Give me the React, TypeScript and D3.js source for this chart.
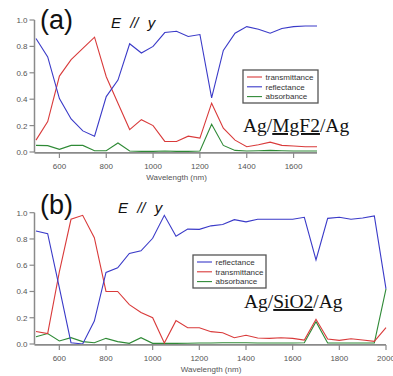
import * as d3 from 'd3';
import React from 'react';

const W = 393;
const H = 376;

// panel (a): Ag/MgF2/Ag
const wavelengthA = [
  500, 550, 600, 650, 700, 750, 800, 850, 900, 950, 1000, 1050, 1100, 1150, 1200,
  1250, 1300, 1350, 1400, 1450, 1500, 1550, 1600, 1650, 1700,
];
const transA = [
  0.09, 0.23, 0.575, 0.7, 0.785, 0.87, 0.57, 0.37, 0.17, 0.245, 0.2, 0.08, 0.08, 0.12, 0.105,
  0.37, 0.18, 0.09, 0.04, 0.055, 0.075, 0.05, 0.045, 0.04, 0.04,
];
const reflA = [
  0.86, 0.72, 0.405, 0.25, 0.16, 0.12, 0.42, 0.545, 0.82, 0.75, 0.8, 0.905, 0.915, 0.875, 0.89,
  0.41, 0.77, 0.9, 0.95, 0.93, 0.9, 0.935, 0.95, 0.955, 0.955,
];
const absA = [
  0.05, 0.048, 0.02, 0.05, 0.05, 0.01, 0.01, 0.068, 0.008, 0.005, 0.005, 0.008, 0.005, 0.005, 0.008,
  0.21, 0.05, 0.012, 0.008, 0.01, 0.012, 0.01, 0.008, 0.008, 0.008,
];

// panel (b): Ag/SiO2/Ag
const wavelengthB = [
  500, 550, 600, 650, 700, 750, 800, 850, 900, 950, 1000, 1050, 1100, 1150, 1200, 1250,
  1300, 1350, 1400, 1450, 1500, 1550, 1600, 1650, 1700, 1750, 1800, 1850, 1900, 1950, 2000,
];
const reflB = [
  0.86, 0.84, 0.43, 0.01, 0.0, 0.175, 0.545, 0.58, 0.69, 0.71, 0.805, 0.98, 0.82, 0.875, 0.873, 0.9,
  0.91, 0.947, 0.93, 0.95, 0.95, 0.95, 0.95, 0.965, 0.64, 0.957, 0.965, 0.95, 0.96, 0.975, 0.42,
];
const transB = [
  0.095, 0.08, 0.55, 0.95, 0.98, 0.81, 0.4, 0.4, 0.3, 0.24, 0.2, 0.008, 0.178, 0.124, 0.124, 0.094,
  0.086, 0.048, 0.066, 0.046, 0.043, 0.048, 0.043, 0.03, 0.188, 0.038, 0.028, 0.04, 0.03, 0.02, 0.124,
];
const absB = [
  0.055, 0.08, 0.023, 0.048, 0.018, 0.01, 0.043, 0.018, 0.005, 0.048, 0.005, 0.005, 0.005, 0.006, 0.008, 0.008,
  0.01, 0.01, 0.01, 0.008, 0.008, 0.008, 0.008, 0.01, 0.17, 0.008, 0.008, 0.008, 0.008, 0.008, 0.42,
];

const yTicks = [0, 0.2, 0.4, 0.6, 0.8, 1.0];
const xTicksA = [600, 800, 1000, 1200, 1400, 1600];
const xTicksB = [600, 800, 1000, 1200, 1400, 1600, 1800, 2000];

const RED = '#d93a3a';
const BLUE = '#3a3ac8';
const GREEN = '#2f8a36';
const AXIS = '#8a8a8a';
const LABEL = '#555';
const SANS = 'Arial, "Liberation Sans", sans-serif';
const SERIF = '"Times New Roman", "Liberation Serif", serif';

type Series = { name: string; color: string; values: number[] };

function Panel({
  label, x0, x1, xMax, yTop, yBottom, wl, series, xTicks, legend, legendBox, formula, formulaPos, tag,
}: {
  label: string; x0: number; x1: number; xMax: number; yTop: number; yBottom: number;
  wl: number[]; series: Series[]; xTicks: number[];
  legend: Series[]; legendBox: { x: number; y: number; w: number; h: number };
  formula: [string, string, string]; formulaPos: { x: number; y: number };
  tag: { x: number; y: number; ex: number };
}) {
  const x = d3.scaleLinear().domain([500, xMax]).range([x0, x1]);
  const y = d3.scaleLinear().domain([0, 1]).range([yBottom, yTop]);
  const axisX = x0 - 1.5;
  const line = d3.line<number>().x((_, i) => x(wl[i])).y((v) => y(v));

  return (
    <g>
      {/* series */}
      {series.map((s) => (
        <path key={s.name} d={line(s.values) || ''} fill="none" stroke={s.color} strokeWidth={1.1} />
      ))}

      {/* y axis */}
      <line x1={axisX} x2={axisX} y1={y(1)} y2={yBottom + 0.5} stroke={AXIS} strokeWidth={1.5} />
      {yTicks.map((t) => (
        <g key={t}>
          <line x1={axisX - 5} x2={axisX} y1={y(t)} y2={y(t)} stroke={AXIS} strokeWidth={1.2} />
          <text x={axisX - 7} y={y(t) + 3} fontSize={8} fill={LABEL} textAnchor="end" fontFamily={SANS}>
            {t.toFixed(1)}
          </text>
        </g>
      ))}

      {/* x axis */}
      <line x1={axisX} x2={x1} y1={yBottom + 0.8} y2={yBottom + 0.8} stroke={AXIS} strokeWidth={1.8} />
      {xTicks.map((t) => (
        <g key={t}>
          <line x1={x(t)} x2={x(t)} y1={yBottom + 1} y2={yBottom + 6} stroke={AXIS} strokeWidth={1.2} />
          <text x={x(t)} y={yBottom + 17} fontSize={8} fill={LABEL} textAnchor="middle" fontFamily={SANS}>
            {t}
          </text>
        </g>
      ))}
      <text x={(x0 + x1) / 2} y={yBottom + 28} fontSize={8} fill={LABEL} textAnchor="middle" fontFamily={SANS}>
        Wavelength (nm)
      </text>

      {/* panel tag and polarisation */}
      <text x={tag.x} y={tag.y} fontSize={27} fill="#111" fontFamily={SANS}>{label}</text>
      <text x={tag.ex} y={tag.y - 1} fontSize={15} fill="#111" fontFamily={SANS} fontStyle="italic" wordSpacing={5}>
        E // y
      </text>

      {/* legend */}
      <rect x={legendBox.x} y={legendBox.y} width={legendBox.w} height={legendBox.h}
        fill="#fff" stroke="#555" strokeWidth={1.3} />
      {legend.map((s, i) => {
        const cy = legendBox.y + 7 + i * 9.8;
        return (
          <g key={s.name}>
            <line x1={legendBox.x + 4} x2={legendBox.x + 19} y1={cy} y2={cy} stroke={s.color} strokeWidth={1.1} />
            <text x={legendBox.x + 22.5} y={cy + 2.8} fontSize={8} fill="#333" fontFamily={SANS}>{s.name}</text>
          </g>
        );
      })}

      {/* stack label */}
      <text x={formulaPos.x} y={formulaPos.y} fontSize={19.5} fill="#111" fontFamily={SERIF}>
        {formula[0]}
        <tspan textDecoration="underline">{formula[1]}</tspan>
        {formula[2]}
      </text>
    </g>
  );
}

export default function App() {
  const tA = { name: 'transmittance', color: RED, values: transA };
  const rA = { name: 'reflectance', color: BLUE, values: reflA };
  const aA = { name: 'absorbance', color: GREEN, values: absA };
  const rB = { name: 'reflectance', color: BLUE, values: reflB };
  const tB = { name: 'transmittance', color: RED, values: transB };
  const aB = { name: 'absorbance', color: GREEN, values: absB };

  return (
    <svg width={W} height={H} style={{ position: 'absolute', left: 0, top: 0, background: '#fff' }}>
      <Panel
        label="(a)" x0={36} x1={317} xMax={1700} yTop={20} yBottom={152}
        wl={wavelengthA} series={[aA, tA, rA]} xTicks={xTicksA}
        legend={[tA, rA, aA]} legendBox={{ x: 243, y: 70, w: 75, h: 33 }}
        formula={['Ag/', 'MgF2', '/Ag']} formulaPos={{ x: 243, y: 132 }}
        tag={{ x: 40, y: 29, ex: 111 }}
      />
      <Panel
        label="(b)" x0={36} x1={386} xMax={2000} yTop={212.7} yBottom={344}
        wl={wavelengthB} series={[aB, tB, rB]} xTicks={xTicksB}
        legend={[rB, tB, aB]} legendBox={{ x: 193, y: 255, w: 73, h: 33 }}
        formula={['Ag/', 'SiO2', '/Ag']} formulaPos={{ x: 244, y: 308 }}
        tag={{ x: 40, y: 214, ex: 118 }}
      />
    </svg>
  );
}
